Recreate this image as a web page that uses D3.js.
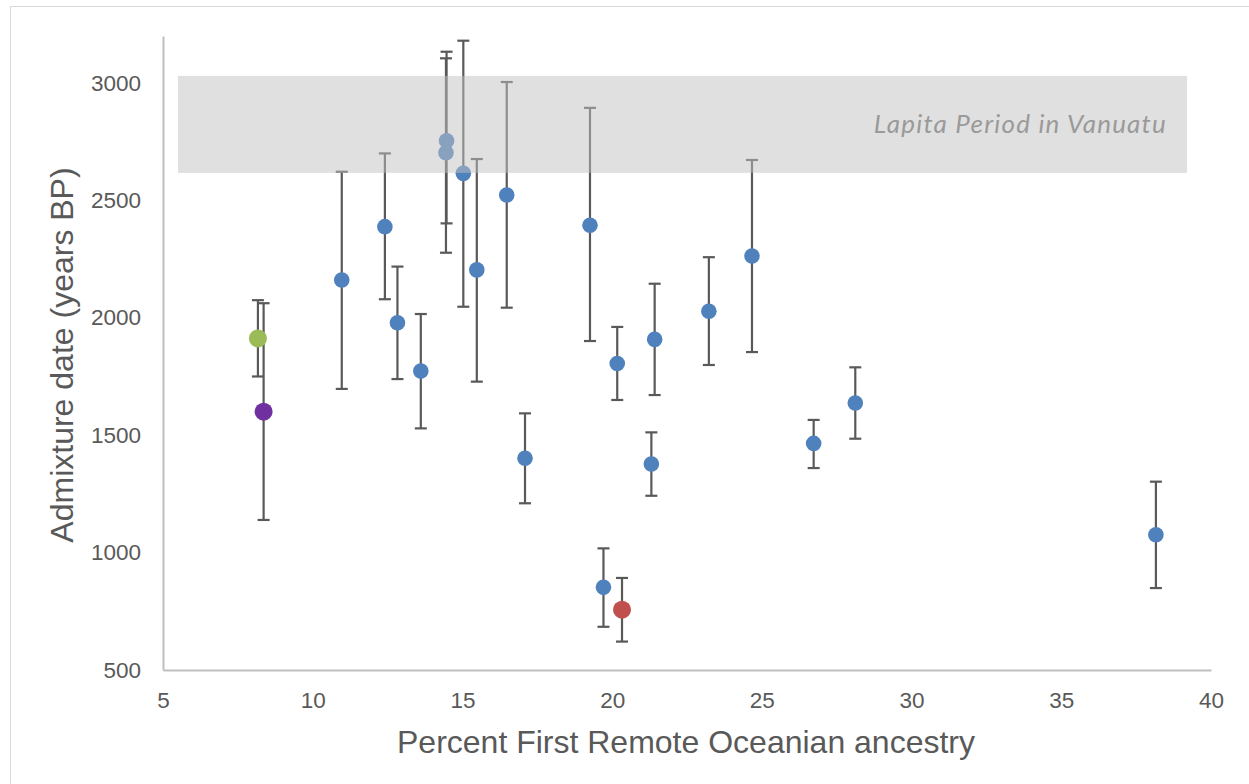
<!DOCTYPE html>
<html>
<head>
<meta charset="utf-8">
<script src="https://cdn.jsdelivr.net/npm/d3@7"></script>
<style>
  body { margin: 0; background: #fff; }
  svg { display: block; }
  .tick text { font-family: "Liberation Sans", Arial, sans-serif; font-size: 22.5px; fill: #595959; }
  .axis-title { font-family: "Liberation Sans", Arial, sans-serif; font-size: 32px; fill: #595959; }
  .band-label { font-family: Lato, "Open Sans", sans-serif; font-style: italic; font-size: 26px; fill: #9a9a9a; letter-spacing: 1.2px; }
</style>
</head>
<body>
<svg id="chart" width="1249" height="784"></svg>
<script>
// percent First Remote Oceanian ancestry
var ancestry = [8.17, 8.36, 10.97, 12.41, 12.83, 13.61, 14.47, 14.45, 15.03, 15.48, 16.48, 17.09,
                19.26, 19.71, 20.33, 20.17, 21.42, 21.31, 23.23, 24.67, 26.73, 28.12, 38.16];
// admixture date, years BP
var dates    = [1912, 1600, 2161, 2388, 1979, 1773, 2754, 2703, 2615, 2204, 2523, 1402,
                2394, 852, 757, 1805, 1908, 1377, 2028, 2263, 1465, 1637, 1076];
var upper    = [2075, 2062, 2622, 2700, 2218, 2016, 3133, 3105, 3180, 2676, 3004, 1593,
                2894, 1018, 892, 1961, 2145, 1512, 2258, 2672, 1565, 1789, 1302];
var lower    = [1750, 1139, 1697, 2079, 1739, 1529, 2402, 2277, 2047, 1728, 2043, 1210,
                1901, 684, 621, 1650, 1671, 1242, 1799, 1854, 1360, 1485, 849];
var groups   = ["green", "purple", "main", "main", "main", "main", "main", "main", "main", "main", "main", "main",
                "main", "main", "red", "main", "main", "main", "main", "main", "main", "main", "main"];

var xTicks = [5, 10, 15, 20, 25, 30, 35, 40];
var yTicks = [500, 1000, 1500, 2000, 2500, 3000];
var lapitaX = [5.5, 39.2];
var lapitaY = [2617, 3030];
var lapitaLabel = "Lapita Period in Vanuatu";

var colors = { main: "#4f81bd", green: "#9bbb59", purple: "#7030a0", red: "#c0504d" };
var radius = { main: 7.8, green: 9, purple: 9, red: 9 };

var svg = d3.select("#chart");

// outer chart frame
svg.append("rect")
   .attr("x", 10.5).attr("y", 6.5).attr("width", 1250).attr("height", 800)
   .attr("fill", "none").attr("stroke", "#d9d9d9").attr("stroke-width", 1);

var x = d3.scaleLinear().domain([5, 40]).range([163, 1211]);
var y = d3.scaleLinear().domain([500, 3200]).range([670, 36]);

// axes
var xAxis = d3.axisBottom(x).tickValues(xTicks).tickSize(0).tickPadding(22).tickFormat(d3.format("d"));
var yAxis = d3.axisLeft(y).tickValues(yTicks).tickSize(0).tickPadding(22).tickFormat(d3.format("d"));

var gx = svg.append("g").attr("transform", "translate(0,670)").call(xAxis);
var gy = svg.append("g").attr("transform", "translate(163,0)").call(yAxis);
gx.select(".domain").attr("stroke", "#bfbfbf").attr("stroke-width", 2);
gy.select(".domain").attr("stroke", "#bfbfbf").attr("stroke-width", 2);

// error bars
var idx = d3.range(ancestry.length);
var bars = svg.append("g").attr("stroke", "#595959").attr("stroke-width", 2.2);
idx.forEach(function(i) {
  var cx = x(ancestry[i]);
  bars.append("line").attr("x1", cx).attr("x2", cx).attr("y1", y(upper[i])).attr("y2", y(lower[i]));
  bars.append("line").attr("x1", cx - 6).attr("x2", cx + 6).attr("y1", y(upper[i])).attr("y2", y(upper[i]));
  bars.append("line").attr("x1", cx - 6).attr("x2", cx + 6).attr("y1", y(lower[i])).attr("y2", y(lower[i]));
});

// points
svg.append("g").selectAll("circle")
   .data(idx)
   .join("circle")
   .attr("cx", function(i) { return x(ancestry[i]); })
   .attr("cy", function(i) { return y(dates[i]); })
   .attr("r", function(i) { return radius[groups[i]]; })
   .attr("fill", function(i) { return colors[groups[i]]; });

// Lapita band, drawn over the marks (semi transparent like the original)
svg.append("rect")
   .attr("x", x(lapitaX[0])).attr("width", x(lapitaX[1]) - x(lapitaX[0]))
   .attr("y", y(lapitaY[1])).attr("height", y(lapitaY[0]) - y(lapitaY[1]))
   .attr("fill", "#c1c1c1").attr("opacity", 0.5);

svg.append("text")
   .attr("class", "band-label")
   .attr("x", 1167).attr("y", 133)
   .attr("text-anchor", "end")
   .text(lapitaLabel);

// axis titles
svg.append("text")
   .attr("class", "axis-title")
   .attr("x", 686).attr("y", 753)
   .attr("text-anchor", "middle")
   .text("Percent First Remote Oceanian ancestry");

svg.append("text")
   .attr("class", "axis-title")
   .attr("transform", "translate(73,355) rotate(-90)")
   .attr("text-anchor", "middle")
   .text("Admixture date (years BP)");
</script>
</body>
</html>
